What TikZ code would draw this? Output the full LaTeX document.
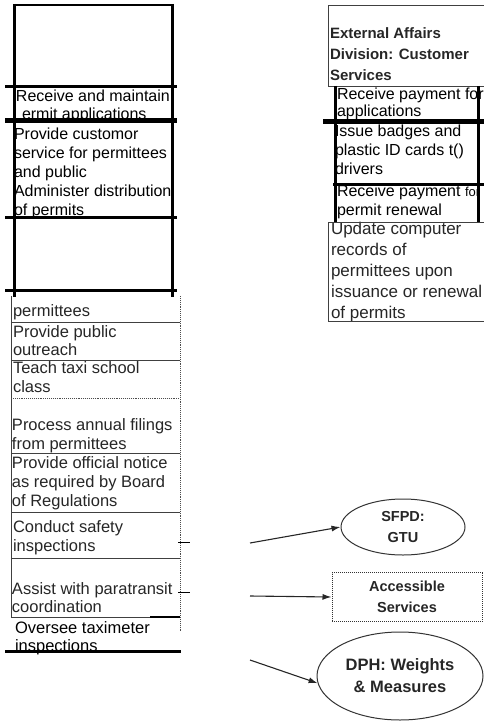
\documentclass[tikz,border=0pt]{standalone}
\usepackage{fontspec}
\setmainfont{Liberation Sans}
\usetikzlibrary{shapes.geometric,arrows.meta}
\begin{document}
\begin{tikzpicture}[x=1pt,y=-1pt,
  txt/.style={anchor=base west, inner sep=0pt, outer sep=0pt, align=left, font=\fontsize{16}{19}\selectfont},
  ltxt/.style={anchor=base west, inner sep=0pt, outer sep=0pt, align=left, font=\fontsize{16.5}{19}\selectfont, text=black!85},
  btxt/.style={anchor=base west, inner sep=0pt, outer sep=0pt, align=left, font=\bfseries\fontsize{15}{21}\selectfont, text=black!85},
  heavy/.style={line width=3pt, black},
  heavier/.style={line width=5pt, black},
  thinl/.style={line width=0.9pt, black!75},
  dotl/.style={line width=0.9pt, black!70, densely dotted},
  agency/.style={draw=black!80, line width=1pt, inner sep=0pt, align=center, font=\bfseries\fontsize{14.5}{21}\selectfont, text=black!85},
  arr/.style={line width=1.1pt, black!85, -{Latex[length=9pt,width=6pt]}}
]
\useasboundingbox (0,0) rectangle (484,722);
\clip (0,0) rectangle (484,722);

% (the base anchor of a multi-line node is the baseline of its last line)
% ---------- upper left column texts ----------
\node[txt, font=\fontsize{16}{18}\selectfont] (rm) at (16,120) {Receive and maintain\\\hspace*{6pt}ermit applications};
\node[txt] (pc) at (14,215) {Provide customor\\service for permittees\\and public\\Administer distribution\\of permits};

% ---------- upper left column frame ----------
\draw[line width=2pt] (14,5) -- (172,5);
\draw[heavy] (14,4) -- (14,297);
\draw[heavy] (172,4) -- (172,297);
\draw[heavy] (5,87) -- (177,87);
\draw[heavier] (5,121) -- (177,121);
\draw[heavy] (5,217) -- (177,217);
\draw[heavy] (5,290) -- (177,290);

% ---------- right column texts ----------
\node[btxt] (ext) at (330,81) {External Affairs\\Division: Customer\\Services};
\node[txt, font=\fontsize{16}{17}\selectfont] (rpa) at (337,117) {Receive payment for\\applications};
\node[txt] (ib) at (335,175) {Issue badges and\\plastic ID cards t()\\drivers};
\node[txt] (rpr) at (337,215) {Receive payment {\fontsize{13}{15}\selectfont for}\\permit renewal};
\node[ltxt, font=\fontsize{17}{21}\selectfont] (upd) at (331,318) {Update computer\\records of\\permittees upon\\issuance or renewal\\of permits};

% ---------- right column frame ----------
\draw[thinl] (328,5) rectangle (484,86);
\draw[heavy] (335,86) -- (335,222);
\draw[heavy] (478,86) -- (478,222);
\draw[heavier] (323,122) -- (484,122);
\draw[heavy] (333,184) -- (484,184);
\draw[thinl] (328,222) rectangle (484,321);

% ---------- lower left column texts ----------
\node[ltxt] (pm) at (13,316) {permittees};
\node[ltxt, font=\fontsize{16.5}{18}\selectfont] (po) at (13,355) {Provide public\\outreach};
\node[ltxt] (tt) at (13,392) {Teach taxi school\\class};
\node[ltxt] (pa) at (12,449) {Process annual filings\\from permittees};
\node[ltxt] (on) at (12,506) {Provide official notice\\as required by Board\\of Regulations};
\node[ltxt] (cs) at (13,551) {Conduct safety\\inspections};
\node[ltxt, font=\fontsize{16.5}{18}\selectfont] (ap) at (12,612) {Assist with paratransit\\coordination};
\node[txt, font=\fontsize{16.5}{18}\selectfont] (ot) at (15,651) {Oversee taximeter\\inspections};

% ---------- lower left column frame ----------
\draw[thinl] (11,296) -- (11,617);
\draw[dotl] (180,296) -- (180,632);
\draw[thinl] (11,322) -- (180,322);
\draw[thinl] (11,360) -- (180,360);
\draw[dotl] (11,398) -- (180,398);
\draw[thinl] (11,453) -- (180,453);
\draw[thinl] (11,512) -- (180,512);
\draw[thinl] (11,558) -- (180,558);
\draw[thinl] (11,617) -- (180,617);
\draw[line width=1.6pt] (150,617) -- (180,617);
\draw[line width=0.9pt] (178,542) -- (190,542);
\draw[line width=0.9pt] (178,592) -- (190,592);
\draw[line width=3pt] (5,651) -- (181,651);

% ---------- agencies ----------
\node[agency, ellipse, minimum width=124pt, minimum height=56pt] (sfpd) at (403,527) {SFPD:\\GTU};
\node[agency, rectangle, densely dotted, minimum width=150pt, minimum height=49pt] (acc) at (407,597) {Accessible\\Services};
\node[agency, ellipse, minimum width=166pt, minimum height=88pt, font=\bfseries\fontsize{16.5}{22}\selectfont] (dph) at (400,676) {DPH: Weights\\\& Measures};

\coordinate (s1) at (250,543);
\coordinate (s2) at (250,596);
\coordinate (s3) at (250,660);
\draw[arr] (s1) -- (sfpd.west);
\draw[arr] (s2) -- (acc.west);
\draw[arr] (s3) -- (dph.185);
\end{tikzpicture}
\end{document}
